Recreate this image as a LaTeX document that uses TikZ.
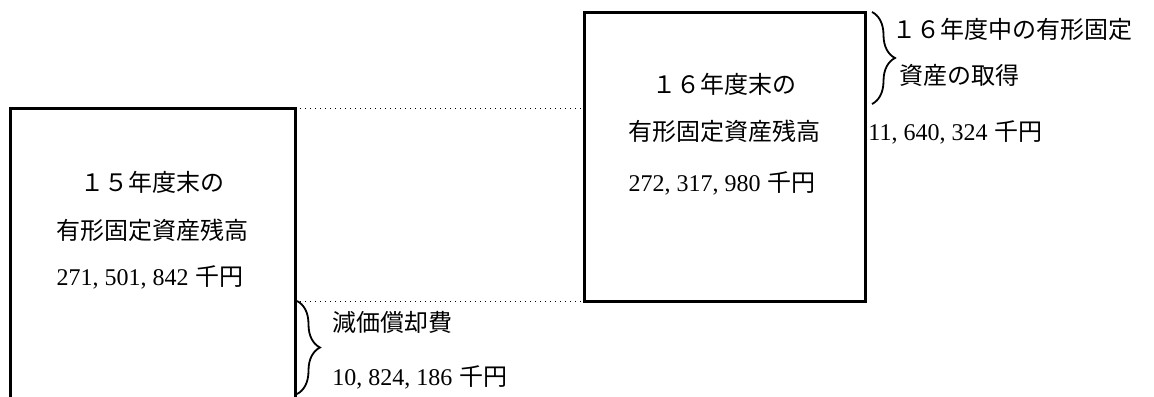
\documentclass[tikz,border=0pt]{standalone}
\usepackage{fontspec}
\setmainfont{Liberation Serif}
\newfontfamily\jpfont{Noto Sans CJK JP}
\usetikzlibrary{decorations.pathreplacing}
\newcommand{\commasp}{,\kern3pt}
\newcommand{\yensep}{\kern3.5pt{\jpfont 千円}}
\tikzset{
  jtext/.style={font=\jpfont\fontsize{12}{14}\selectfont, inner sep=0pt},
  ntext/.style={font=\rmfamily\fontsize{12}{14}\selectfont, inner sep=0pt},
  boxline/.style={line width=1.5pt, line cap=rect},
  dotline/.style={line width=0.5pt, dotted},
  bracestyle/.style={line width=0.9pt, decorate, decoration={brace, amplitude=11.5pt}},
}
\begin{document}
\begin{tikzpicture}[x=0.5pt, y=-0.5pt]
\useasboundingbox (0,0) rectangle (1154,396);
% boxes (shapes as named nodes, edges drawn explicitly)
\node[minimum width=142.5pt, minimum height=146pt, inner sep=0pt, outer sep=0pt, anchor=north west] (b15) at (10,108) {};
\node[draw, boxline, minimum width=140.5pt, minimum height=144.5pt, inner sep=0pt, outer sep=0pt, anchor=north west] (b16) at (584,12) {};
\draw[boxline] (b15.south west) -- (b15.north west) -- (b15.north east) -- (b15.south east);
% dotted guide lines
\coordinate (t16) at (b16.west |- b15.north east);
\draw[dotline] (b15.north east) -- (t16);
\coordinate (d15) at (b15.east |- b16.south west);
\draw[dotline] (d15) -- (b16.south west);
% texts in left box
\node[jtext] (l1) at (152,182) {１５年度末の};
\node[jtext] (l2) at (152,230) {有形固定資産残高};
\node[ntext] (l3) at (150,277) {271\commasp 501\commasp 842\yensep};
% texts in right box
\node[jtext] (r1) at (724,84) {１６年度末の};
\node[jtext] (r2) at (724,131) {有形固定資産残高};
\node[ntext] (r3) at (722,183) {272\commasp 317\commasp 980\yensep};
% right brace and labels
\coordinate (rbt) at (872,12);
\coordinate (rbb) at (872,104);
\draw[bracestyle] (rbt) -- (rbb);
\node[jtext, anchor=west] (a1) at (892,29) {１６年度中の有形固定};
\node[jtext, anchor=west] (a2) at (899,75) {資産の取得};
\node[ntext, anchor=west] (a3) at (868,132) {11\commasp 640\commasp 324\yensep};
% left brace and labels
\coordinate (lbt) at (297,301);
\coordinate (lbb) at (297,394);
\draw[bracestyle] (lbt) -- (lbb);
\node[jtext, anchor=west] (c1) at (332,322) {減価償却費};
\node[ntext, anchor=west] (c2) at (332,377) {10\commasp 824\commasp 186\yensep};
\end{tikzpicture}
\end{document}
